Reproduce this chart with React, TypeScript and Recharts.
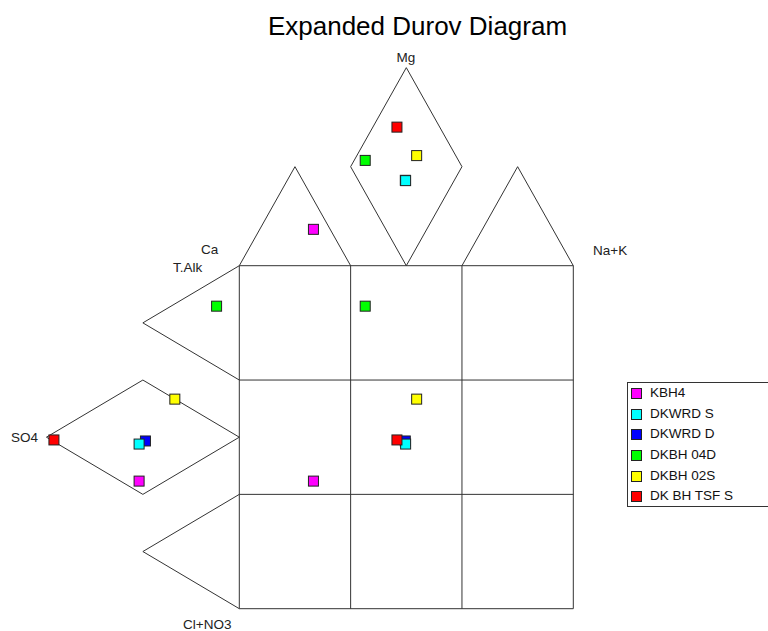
import React from 'react';
import { ScatterChart, Scatter, XAxis, YAxis, Legend } from 'recharts';

// Samples (legend order)
const sampleNames = ['KBH4', 'DKWRD S', 'DKWRD D', 'DKBH 04D', 'DKBH 02S', 'DK BH TSF S'];
const sampleColors = ['#FF00FF', '#00FFFF', '#0000FF', '#00FF00', '#FFFF00', '#FF0000'];
// Position in the cation field (top triangles / diamond), diagram units
const cationX = [22.2, 49.8, 49.7, 37.7, 53.1, 47.2];
const cationY = [110.6, 124.8, 124.9, 130.7, 132.1, 140.4];
// Position in the anion field (left triangles / diamond), diagram units
const anionX = [-30.0, -30.0, -28.1, -6.8, -19.3, -55.5];
const anionY = [37.2, 48.0, 48.9, 88.2, 61.1, 49.2];
// Drawing order (blue under cyan)
const drawOrder = [0, 2, 1, 3, 4, 5];

const axisLabels = [
  { text: 'Mg', x: 406, y: 62, anchor: 'middle' },
  { text: 'Ca', x: 201, y: 254, anchor: 'start' },
  { text: 'T.Alk', x: 173, y: 272, anchor: 'start' },
  { text: 'Na+K', x: 593, y: 255, anchor: 'start' },
  { text: 'SO4', x: 11, y: 442, anchor: 'start' },
  { text: 'Cl+NO3', x: 183, y: 629, anchor: 'start' },
];

const H = 28.87;
const t1 = 100 / 3;
const t2 = 200 / 3;
const outlines: { x: number; y: number }[][] = [
  // square
  [{ x: 0, y: 0 }, { x: 100, y: 0 }, { x: 100, y: 100 }, { x: 0, y: 100 }, { x: 0, y: 0 }],
  [{ x: t1, y: 0 }, { x: t1, y: 100 }],
  [{ x: t2, y: 0 }, { x: t2, y: 100 }],
  [{ x: 0, y: t1 }, { x: 100, y: t1 }],
  [{ x: 0, y: t2 }, { x: 100, y: t2 }],
  // top triangles + diamond
  [{ x: 0, y: 100 }, { x: t1 / 2, y: 100 + H }, { x: t1, y: 100 }],
  [{ x: t2, y: 100 }, { x: (t2 + 100) / 2, y: 100 + H }, { x: 100, y: 100 }],
  [{ x: 50, y: 100 }, { x: t2, y: 100 + H }, { x: 50, y: 100 + 2 * H }, { x: t1, y: 100 + H }, { x: 50, y: 100 }],
  // left triangles + diamond
  [{ x: 0, y: 100 }, { x: -H, y: (100 + t2) / 2 }, { x: 0, y: t2 }],
  [{ x: 0, y: t1 }, { x: -H, y: t1 / 2 }, { x: 0, y: 0 }],
  [{ x: 0, y: 50 }, { x: -H, y: t2 }, { x: -2 * H, y: 50 }, { x: -H, y: t1 }, { x: 0, y: 50 }],
];

const FONT = '"Liberation Sans", Arial, sans-serif';

const Square = (props: any) => {
  const { cx, cy, fill } = props;
  if (cx == null || cy == null) return <g />;
  return <rect x={cx - 5} y={cy - 5} width={10} height={10} fill={fill} stroke="#222" strokeWidth={1} />;
};

const Empty = () => <g />;

const LegendBox = () => (
  <div
    style={{
      position: 'absolute',
      left: 627,
      top: 382,
      width: 150,
      height: 123,
      border: '1px solid #333',
      background: '#fff',
      fontFamily: FONT,
      fontSize: 13.5,
      boxSizing: 'content-box',
    }}
  >
    {sampleNames.map((n, i) => (
      <div key={n} style={{ position: 'relative', height: 20.7, lineHeight: '20.7px' }}>
        <span
          style={{
            position: 'absolute',
            left: 3,
            top: 5,
            width: 9,
            height: 9,
            background: sampleColors[i],
            border: '1px solid #222',
          }}
        />
        <span style={{ position: 'absolute', left: 22, top: 0, color: '#111', whiteSpace: 'nowrap' }}>{n}</span>
      </div>
    ))}
  </div>
);

export default function App() {
  return (
    <div style={{ position: 'absolute', left: 0, top: 0, width: 768, height: 631, background: '#fff' }}>
      <ScatterChart
        width={768}
        height={631}
        margin={{ left: 5.5, right: 27.7, top: 8.45, bottom: 5.15 }}
      >
        <XAxis type="number" dataKey="x" domain={[-70, 150]} hide allowDataOverflow />
        <YAxis type="number" dataKey="y" domain={[-5, 175]} hide allowDataOverflow />
        {outlines.map((poly, i) => (
          <Scatter
            key={'o' + i}
            data={poly}
            line={{ stroke: '#333', strokeWidth: 1 }}
            lineJointType="linear"
            shape={Empty}
            isAnimationActive={false}
            legendType="none"
          />
        ))}
        {drawOrder.map((i) => (
          <Scatter
            key={sampleNames[i]}
            name={sampleNames[i]}
            data={[
              { x: cationX[i], y: cationY[i] },
              { x: anionX[i], y: anionY[i] },
              { x: cationX[i], y: anionY[i] },
            ]}
            fill={sampleColors[i]}
            shape={Square}
            isAnimationActive={false}
          />
        ))}
        <Legend content={LegendBox} wrapperStyle={{ position: 'absolute', left: 0, top: 0, width: 0, height: 0 }} />
        <text x={417.5} y={35} textAnchor="middle" fontSize={26} fontFamily={FONT} fill="#000">
          Expanded Durov Diagram
        </text>
        {axisLabels.map((l) => (
          <text key={l.text} x={l.x} y={l.y} textAnchor={l.anchor as any} fontSize={13.5} fontFamily={FONT} fill="#222">
            {l.text}
          </text>
        ))}
      </ScatterChart>
    </div>
  );
}
